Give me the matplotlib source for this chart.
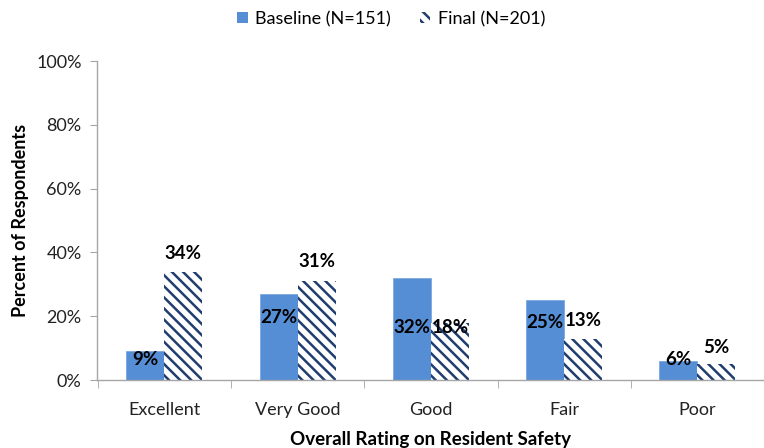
import matplotlib
matplotlib.use("Agg")
import matplotlib.pyplot as plt
from matplotlib.patches import Patch
import numpy as np

categories = ["Excellent", "Very Good", "Good", "Fair", "Poor"]
baseline = [9, 27, 32, 25, 6]
final = [34, 31, 18, 13, 5]
series_names = ["Baseline (N=151)", "Final (N=201)"]
yticks = [0, 20, 40, 60, 80, 100]

# label anchor positions (in % units), as placed in the original
baseline_label_y = [6.3, 19.7, 16.6, 17.9, 6.3]
final_label_y = [39.8, 37.3, 16.6, 18.8, 10.3]

plt.rcParams['font.family'] = ['Lato', 'DejaVu Sans']
plt.rcParams['hatch.linewidth'] = 1.8

blue = '#558ED5'
navy = '#1F3D6E'
gray = '#A6A6A6'

fig = plt.figure(figsize=(7.64, 4.48), dpi=100)
ax = fig.add_axes([97/764, 68/448, 667/764, 319/448])

x = np.arange(len(categories))
w = 0.285
ax.bar(x - w/2, baseline, w, color=blue, edgecolor='#7FA8DD', linewidth=0.6)
ax.bar(x + w/2, final, w, color='white', edgecolor=navy, hatch='\\\\\\', linewidth=0)

for i in range(len(categories)):
    ax.text(x[i] - w/2, baseline_label_y[i], f"{baseline[i]}%", ha='center', va='center',
            fontsize=13.5, fontweight='bold', color='black')
    ax.text(x[i] + w/2, final_label_y[i], f"{final[i]}%", ha='center', va='center',
            fontsize=13.5, fontweight='bold', color='black')

ax.set_xlim(-0.506, 4.454)
ax.set_ylim(0, 100)
ax.set_yticks(yticks)
ax.set_yticklabels([f"{t}%" for t in yticks], fontsize=13, color='#222222')
ax.set_xticks(x)
ax.set_xticklabels(categories, fontsize=13, color='#222222')
ax.set_xticks(np.arange(len(categories) + 1) - 0.5, minor=True)
ax.tick_params(axis='x', which='major', length=0, pad=16)
ax.tick_params(axis='x', which='minor', length=6, color=gray, direction='out')
ax.tick_params(axis='y', length=5, color=gray, direction='out', pad=6)

for s in ['top', 'right']:
    ax.spines[s].set_visible(False)
for s in ['left', 'bottom']:
    ax.spines[s].set_color(gray)
    ax.spines[s].set_linewidth(1.0)

ax.set_ylabel("Percent of Respondents", fontsize=13, fontweight='bold', labelpad=5)
ax.set_xlabel("Overall Rating on Resident Safety", fontsize=13.5, fontweight='bold', labelpad=9)

handles = [Patch(facecolor=blue, edgecolor='none'),
           Patch(facecolor='white', edgecolor=navy, hatch='\\\\\\', linewidth=0)]
fig.legend(handles, series_names, loc='center', bbox_to_anchor=(391/764, 1 - 19/448),
           ncol=2, frameon=False, fontsize=13, handlelength=0.6, handleheight=0.6,
           columnspacing=1.6, handletextpad=0.4)

fig.savefig("out.png", dpi=100)
